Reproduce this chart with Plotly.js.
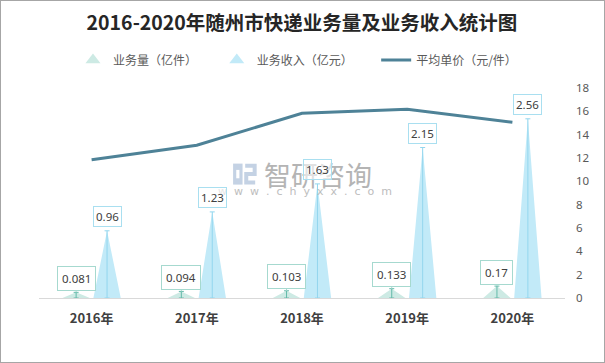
<!DOCTYPE html>
<html>
<head>
<meta charset="utf-8">
<script src="https://cdn.plot.ly/plotly-3.0.1.min.js"></script>
<style>
  html, body { margin:0; padding:0; background:#fff; }
  #frame { position:absolute; left:0; top:0; width:605px; height:363px; box-sizing:border-box; border:1px solid #a6a6a6; background:#fff; }
  #chart { width:603px; height:361px; }
</style>
</head>
<body>
<div id="frame"><div id="chart"></div></div>
<script>
// ---- data ----
const years = ['2016年', '2017年', '2018年', '2019年', '2020年'];
const volume = [0.081, 0.094, 0.103, 0.133, 0.17];     // 业务量（亿件）
const revenue = [0.96, 1.23, 1.63, 2.15, 2.56];        // 业务收入（亿元）
const unitPrice = [11.85, 13.09, 15.83, 16.17, 15.06]; // 平均单价（元/件）
const seriesNames = ['业务量（亿件）', '业务收入（亿元）', '平均单价（元/件）'];

// ---- styling ----
const volOffset = -0.147, revOffset = 0.147, halfBase = 0.13;
const volFill = '#cdeae4', revFill = '#c2eaf8';
const volLine = '#62b9a9', revLine = '#93d6ee';
const priceColor = '#4e8297';
const idx = years.map((_, i) => i);

function triangles(values, offset) {
  const x = [], y = [];
  values.forEach((v, i) => {
    const c = i + offset;
    x.push(c - halfBase, c, c + halfBase, c - halfBase, null);
    y.push(0, v, 0, 0, null);
  });
  return {x, y};
}
const vt = triangles(volume, volOffset);
const rt = triangles(revenue, revOffset);

const traces = [
  {type:'scatter', mode:'none', x:vt.x, y:vt.y, fill:'toself', fillcolor:volFill, showlegend:false, hoverinfo:'skip'},
  {type:'scatter', mode:'none', x:rt.x, y:rt.y, fill:'toself', fillcolor:revFill, showlegend:false, hoverinfo:'skip'},
  {type:'scatter', mode:'markers', x:idx.map(i => i + volOffset), y:volume, marker:{size:1, color:'rgba(0,0,0,0)'},
   error_y:{type:'data', symmetric:false, array:volume.map(() => 0), arrayminus:volume, color:volLine, thickness:1, width:2.5}, showlegend:false},
  {type:'scatter', mode:'markers', x:idx.map(i => i + revOffset), y:revenue, marker:{size:1, color:'rgba(0,0,0,0)'},
   error_y:{type:'data', symmetric:false, array:revenue.map(() => 0), arrayminus:revenue, color:revLine, thickness:1, width:2.5}, showlegend:false},
  // legend entries
  {type:'scatter', mode:'markers', x:[null], y:[null], name:seriesNames[0], legend:'legend', marker:{symbol:'triangle-up', size:13, color:volFill}},
  {type:'scatter', mode:'markers', x:[null], y:[null], name:seriesNames[1], legend:'legend2', marker:{symbol:'triangle-up', size:13, color:revFill}},
  {type:'scatter', mode:'lines', x:idx, y:unitPrice, yaxis:'y2', name:seriesNames[2], legend:'legend3', line:{color:priceColor, width:3}}
];

const annotations = [];
// watermark
annotations.push({xref:'paper', yref:'paper', x:0.53, y:0.59, text:'智研咨询', showarrow:false,
  font:{family:'Noto Sans CJK SC', size:27, color:'#b4b4b4'}});
annotations.push({xref:'paper', yref:'paper', x:0.505, y:0.505, text:'w  w  w  .  c  h  y  x  x  .  c  o  m', showarrow:false,
  font:{family:'DejaVu Sans', size:11, color:'#bdbdbd'}});
// data labels
volume.forEach((v, i) => annotations.push({
  x:i + volOffset, y:v, xref:'x', yref:'y', text:String(v), showarrow:true, arrowhead:0, arrowwidth:1,
  arrowcolor:'#a6d9cf', ax:0, ay:-14, bordercolor:'#a6d9cf', borderwidth:1, borderpad:4,
  bgcolor:'rgba(255,255,255,0.85)', font:{family:'Noto Sans', size:11.5, color:'#404040'}
}));
revenue.forEach((v, i) => annotations.push({
  x:i + revOffset, y:v, xref:'x', yref:'y', text:String(v), showarrow:false, yanchor:'bottom', yshift:4,
  bordercolor:'#a9dff0', borderwidth:1, borderpad:2,
  bgcolor:'rgba(255,255,255,0.6)', font:{family:'Noto Sans', size:11.5, color:'#404040'}
}));

const shapes = [
  // watermark logo (approximation)
  {type:'rect', xref:'paper', yref:'paper', x0:0.369, x1:0.387, y0:0.54, y1:0.64, line:{width:0}, fillcolor:'#c4d2e4', layer:'below'},
  {type:'rect', xref:'paper', yref:'paper', x0:0.375, x1:0.381, y0:0.57, y1:0.61, line:{width:0}, fillcolor:'#ffffff', layer:'below'},
  {type:'path', xref:'paper', yref:'paper', path:'M0.392,0.63 L0.410,0.63 L0.410,0.59 L0.394,0.59 L0.394,0.55 L0.411,0.55', line:{color:'#c4d2e4', width:4}, layer:'below'}
];

const legendBase = {orientation:'h', xanchor:'left', y:1.133, yanchor:'middle',
  font:{family:'Noto Sans CJK SC', size:12, color:'#595959'}, bgcolor:'rgba(0,0,0,0)'};

const layout = {
  width:603, height:361,
  margin:{l:38, r:39, t:87, b:64},
  paper_bgcolor:'#ffffff', plot_bgcolor:'#ffffff',
  title:{text:'2016-2020年随州市快递业务量及业务收入统计图', x:0.5, xref:'paper', xanchor:'center', y:0.939, yanchor:'middle',
    font:{family:'Noto Sans CJK SC', size:19.5, color:'#262626', weight:'bold'}},
  xaxis:{range:[-0.5, 4.5], tickvals:idx, ticktext:years, showline:true, linecolor:'#d9d9d9', linewidth:1,
    showgrid:false, zeroline:false, ticks:'', ticklabelstandoff:8,
    tickfont:{family:'Noto Sans CJK SC', size:13, color:'#404040', weight:'bold'}},
  yaxis:{range:[0, 3], visible:false, showgrid:false, zeroline:false},
  yaxis2:{range:[0, 18], dtick:2, overlaying:'y', side:'right', showgrid:false, zeroline:false, showline:false,
    ticks:'', ticklabelstandoff:10, tickfont:{family:'Noto Sans', size:11.5, color:'#595959'}},
  legend:Object.assign({}, legendBase, {x:0.0646}),
  legend2:Object.assign({}, legendBase, {x:0.338}),
  legend3:Object.assign({}, legendBase, {x:0.641}),
  annotations:annotations,
  shapes:shapes,
  showlegend:true
};

Plotly.newPlot('chart', traces, layout, {displayModeBar:false, staticPlot:true});
</script>
</body>
</html>
